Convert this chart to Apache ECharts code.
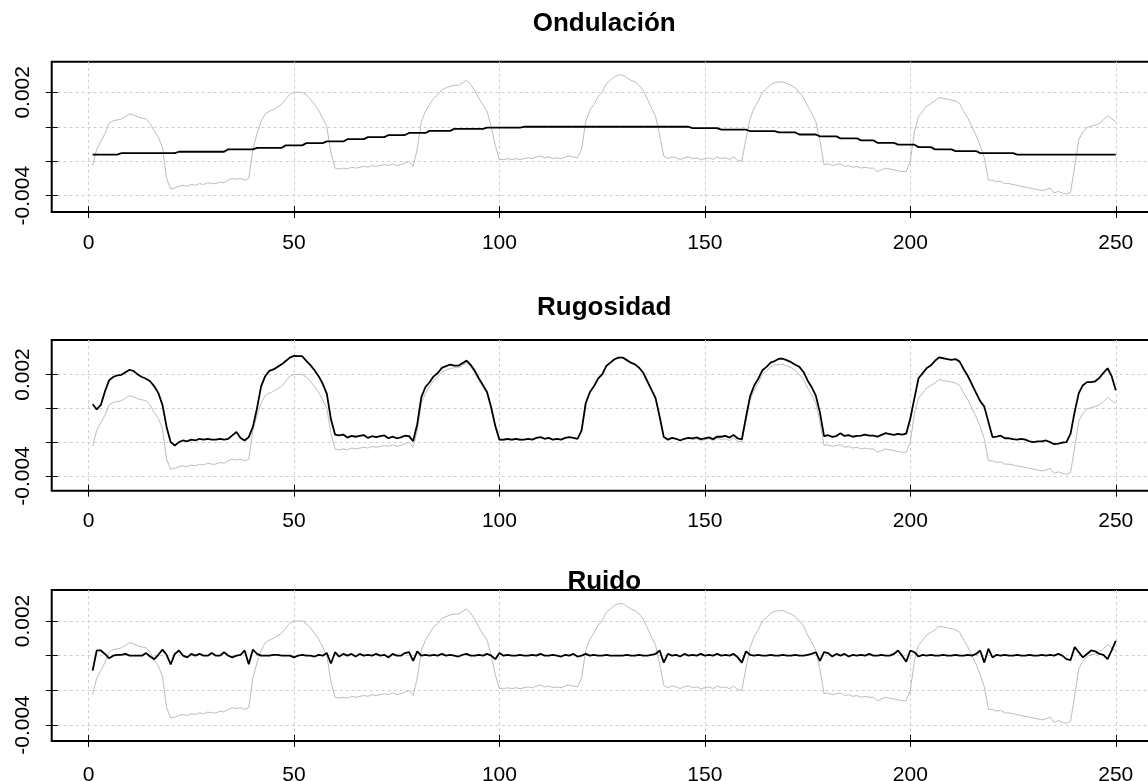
<!DOCTYPE html>
<html><head><meta charset="utf-8">
<script src="https://cdn.jsdelivr.net/npm/echarts@6/dist/echarts.min.js"></script>
<style>html,body{margin:0;padding:0;background:#fff}#c{width:1148px;height:781px}</style>
</head><body><div id="c"></div>
<script>
// ---- data ----
const panelTitles = ['Ondulación', 'Rugosidad', 'Ruido'];
const xTicks = [0, 50, 100, 150, 200, 250];
const yTicks = [-0.004, -0.002, 0, 0.002];
const yLabelTicks = [-0.004, 0.002];

const perfil = [
-0.00224,-0.00130,-0.00085,-0.00040,0.00020,0.00035,0.00040,0.00045,0.00060,0.00075,
0.00068,0.00056,0.00050,0.00046,0.00020,-0.00025,-0.00060,-0.00120,-0.00300,-0.00360,
-0.00355,-0.00345,-0.00340,-0.00345,-0.00335,-0.00340,-0.00330,-0.00335,-0.00325,-0.00330,
-0.00330,-0.00320,-0.00325,-0.00310,-0.00300,-0.00305,-0.00300,-0.00310,-0.00300,-0.00130,
-0.00040,0.00030,0.00075,0.00090,0.00100,0.00115,0.00130,0.00160,0.00190,0.00200,
0.00200,0.00200,0.00185,0.00160,0.00130,0.00095,0.00050,0.00000,-0.00150,-0.00240,
-0.00245,-0.00240,-0.00245,-0.00235,-0.00240,-0.00235,-0.00230,-0.00235,-0.00225,-0.00230,
-0.00225,-0.00220,-0.00225,-0.00215,-0.00225,-0.00220,-0.00210,-0.00200,-0.00230,-0.00130,
0.00030,0.00090,0.00130,0.00165,0.00185,0.00215,0.00225,0.00235,0.00240,0.00240,
0.00255,0.00270,0.00245,0.00210,0.00165,0.00125,0.00090,0.00000,-0.00110,-0.00190,
-0.00190,-0.00185,-0.00190,-0.00185,-0.00190,-0.00185,-0.00180,-0.00185,-0.00175,-0.00170,
-0.00180,-0.00175,-0.00185,-0.00180,-0.00185,-0.00175,-0.00170,-0.00175,-0.00180,-0.00130,
0.00030,0.00095,0.00130,0.00175,0.00200,0.00250,0.00270,0.00290,0.00300,0.00300,
0.00285,0.00270,0.00260,0.00240,0.00210,0.00160,0.00110,0.00060,-0.00050,-0.00170,
-0.00185,-0.00175,-0.00180,-0.00190,-0.00180,-0.00175,-0.00185,-0.00180,-0.00190,-0.00185,
-0.00180,-0.00190,-0.00175,-0.00185,-0.00180,-0.00190,-0.00175,-0.00195,-0.00200,-0.00070,
0.00046,0.00110,0.00150,0.00200,0.00220,0.00245,0.00255,0.00260,0.00260,0.00250,
0.00240,0.00225,0.00200,0.00170,0.00120,0.00080,0.00030,-0.00080,-0.00220,-0.00215,
-0.00225,-0.00220,-0.00215,-0.00230,-0.00225,-0.00235,-0.00230,-0.00240,-0.00235,-0.00240,
-0.00240,-0.00260,-0.00250,-0.00240,-0.00245,-0.00250,-0.00255,-0.00260,-0.00260,-0.00200,
-0.00030,0.00060,0.00090,0.00120,0.00135,0.00150,0.00170,0.00165,0.00160,0.00155,
0.00150,0.00135,0.00090,0.00050,0.00000,-0.00050,-0.00110,-0.00180,-0.00310,-0.00310,
-0.00320,-0.00315,-0.00330,-0.00330,-0.00335,-0.00340,-0.00345,-0.00350,-0.00355,-0.00360,
-0.00365,-0.00370,-0.00365,-0.00355,-0.00385,-0.00375,-0.00385,-0.00390,-0.00380,-0.00230,
-0.00075,-0.00030,-0.00005,0.00005,0.00010,0.00020,0.00040,0.00065,0.00045,0.00030
];

const ondulacion = [
-0.00162,-0.00162,-0.00162,-0.00162,-0.00162,-0.00162,-0.00162,-0.00153,-0.00153,-0.00153,
-0.00153,-0.00153,-0.00153,-0.00153,-0.00153,-0.00153,-0.00153,-0.00153,-0.00153,-0.00153,
-0.00153,-0.00145,-0.00145,-0.00145,-0.00145,-0.00145,-0.00145,-0.00145,-0.00145,-0.00145,
-0.00145,-0.00145,-0.00145,-0.00131,-0.00131,-0.00131,-0.00131,-0.00131,-0.00131,-0.00131,
-0.00122,-0.00122,-0.00122,-0.00122,-0.00122,-0.00122,-0.00122,-0.00108,-0.00108,-0.00108,
-0.00108,-0.00108,-0.00095,-0.00095,-0.00095,-0.00095,-0.00095,-0.00085,-0.00085,-0.00085,
-0.00085,-0.00085,-0.00072,-0.00072,-0.00072,-0.00072,-0.00072,-0.00060,-0.00060,-0.00060,
-0.00060,-0.00060,-0.00048,-0.00048,-0.00048,-0.00048,-0.00048,-0.00036,-0.00036,-0.00036,
-0.00036,-0.00036,-0.00024,-0.00024,-0.00024,-0.00024,-0.00024,-0.00024,-0.00012,-0.00012,
-0.00012,-0.00012,-0.00012,-0.00012,-0.00012,-0.00012,-0.00005,-0.00005,-0.00005,-0.00005,
-0.00005,-0.00005,-0.00005,-0.00005,-0.00005,0,0,0,0,0,
0,0,0,0,0,0,0,0,0,0,
0,0,0,0,0,0,0,0,0,0,
0,0,0,0,0,0,0,0,0,0,
0,0,0,0,0,0,-0.00008,-0.00008,-0.00008,-0.00008,
-0.00008,-0.00008,-0.00008,-0.00017,-0.00017,-0.00017,-0.00017,-0.00017,-0.00017,-0.00017,
-0.00025,-0.00025,-0.00025,-0.00025,-0.00025,-0.00025,-0.00025,-0.00033,-0.00033,-0.00033,
-0.00033,-0.00033,-0.00045,-0.00045,-0.00045,-0.00045,-0.00045,-0.00056,-0.00056,-0.00056,
-0.00056,-0.00056,-0.00067,-0.00067,-0.00067,-0.00067,-0.00067,-0.00079,-0.00079,-0.00079,
-0.00079,-0.00093,-0.00093,-0.00093,-0.00093,-0.00093,-0.00104,-0.00104,-0.00104,-0.00104,
-0.00104,-0.00118,-0.00118,-0.00118,-0.00118,-0.00131,-0.00131,-0.00131,-0.00131,-0.00131,
-0.00141,-0.00141,-0.00141,-0.00141,-0.00141,-0.00141,-0.00153,-0.00153,-0.00153,-0.00153,
-0.00153,-0.00153,-0.00153,-0.00153,-0.00153,-0.00162,-0.00162,-0.00162,-0.00162,-0.00162,
-0.00162,-0.00162,-0.00162,-0.00162,-0.00162,-0.00162,-0.00162,-0.00162,-0.00162,-0.00162,
-0.00162,-0.00162,-0.00162,-0.00162,-0.00162,-0.00162,-0.00162,-0.00162,-0.00162,-0.00162
];

const rugosidad = [
0.00024,-0.00006,0.00020,0.00100,0.00165,0.00185,0.00195,0.00198,0.00213,0.00228,
0.00220,0.00200,0.00185,0.00175,0.00160,0.00130,0.00090,0.00020,-0.00110,-0.00200,
-0.00220,-0.00200,-0.00190,-0.00195,-0.00185,-0.00190,-0.00180,-0.00185,-0.00180,-0.00185,
-0.00185,-0.00180,-0.00185,-0.00180,-0.00160,-0.00140,-0.00175,-0.00190,-0.00170,-0.00110,
0.00000,0.00130,0.00190,0.00222,0.00230,0.00245,0.00260,0.00280,0.00300,0.00310,
0.00308,0.00308,0.00280,0.00255,0.00225,0.00190,0.00145,0.00085,-0.00065,-0.00155,
-0.00160,-0.00155,-0.00173,-0.00163,-0.00168,-0.00163,-0.00158,-0.00175,-0.00165,-0.00170,
-0.00165,-0.00160,-0.00177,-0.00167,-0.00177,-0.00172,-0.00162,-0.00164,-0.00194,-0.00094,
0.00066,0.00126,0.00154,0.00189,0.00209,0.00239,0.00249,0.00259,0.00252,0.00252,
0.00267,0.00282,0.00257,0.00222,0.00177,0.00137,0.00095,0.00005,-0.00105,-0.00185,
-0.00185,-0.00180,-0.00185,-0.00180,-0.00185,-0.00185,-0.00180,-0.00185,-0.00175,-0.00170,
-0.00180,-0.00175,-0.00185,-0.00180,-0.00185,-0.00175,-0.00170,-0.00175,-0.00180,-0.00130,
0.00030,0.00095,0.00130,0.00175,0.00200,0.00250,0.00270,0.00290,0.00300,0.00300,
0.00285,0.00270,0.00260,0.00240,0.00210,0.00160,0.00110,0.00060,-0.00050,-0.00170,
-0.00185,-0.00175,-0.00180,-0.00190,-0.00180,-0.00175,-0.00177,-0.00172,-0.00182,-0.00177,
-0.00172,-0.00182,-0.00167,-0.00168,-0.00163,-0.00173,-0.00158,-0.00178,-0.00183,-0.00053,
0.00071,0.00135,0.00175,0.00225,0.00245,0.00270,0.00280,0.00293,0.00293,0.00283,
0.00273,0.00258,0.00245,0.00215,0.00165,0.00125,0.00075,-0.00024,-0.00164,-0.00159,
-0.00169,-0.00164,-0.00148,-0.00163,-0.00158,-0.00168,-0.00163,-0.00161,-0.00156,-0.00161,
-0.00161,-0.00167,-0.00157,-0.00147,-0.00152,-0.00157,-0.00151,-0.00156,-0.00150,-0.00060,
0.00060,0.00178,0.00208,0.00238,0.00253,0.00281,0.00301,0.00296,0.00291,0.00286,
0.00291,0.00276,0.00231,0.00191,0.00141,0.00091,0.00043,0.00010,-0.00080,-0.00170,
-0.00167,-0.00162,-0.00177,-0.00177,-0.00182,-0.00185,-0.00180,-0.00185,-0.00195,-0.00200,
-0.00195,-0.00195,-0.00190,-0.00200,-0.00212,-0.00208,-0.00202,-0.00200,-0.00150,-0.00020,
0.00090,0.00137,0.00155,0.00155,0.00160,0.00180,0.00210,0.00237,0.00190,0.00107
];

const ruido = [
-0.00086,0.00030,0.00030,0.00010,-0.00015,0.00000,0.00005,0.00005,0.00010,0.00000,
0.00000,0.00000,0.00000,0.00015,-0.00005,-0.00020,0.00005,0.00035,0.00005,-0.00050,
0.00010,0.00030,0.00000,-0.00010,0.00010,0.00000,0.00010,0.00000,0.00000,0.00015,
0.00000,0.00000,0.00020,0.00000,-0.00010,0.00000,0.00005,0.00030,-0.00050,0.00035,
0.00010,0.00000,0.00000,0.00000,0.00005,0.00005,0.00000,0.00000,0.00000,-0.00010,
0.00000,0.00005,0.00000,0.00000,-0.00005,0.00005,0.00000,0.00015,-0.00045,0.00020,
-0.00005,0.00010,0.00000,0.00010,-0.00005,0.00010,0.00000,0.00005,0.00000,0.00010,
0.00000,0.00005,-0.00010,0.00010,0.00000,0.00000,0.00015,0.00020,-0.00030,0.00025,
0.00000,0.00005,0.00000,0.00005,0.00000,0.00010,0.00000,0.00005,0.00000,-0.00005,
0.00005,0.00010,0.00000,0.00000,0.00005,0.00000,0.00010,0.00000,-0.00020,0.00015,
0.00000,0.00005,0.00000,0.00000,0.00005,0.00000,0.00000,0.00005,0.00000,0.00010,
0.00000,0.00000,0.00005,0.00000,-0.00005,0.00005,0.00000,0.00010,-0.00005,0.00000,
0.00010,0.00000,0.00005,0.00000,0.00000,0.00005,0.00000,0.00000,0.00000,0.00000,
0.00005,0.00000,0.00000,0.00005,0.00000,0.00000,0.00005,0.00010,0.00030,-0.00040,
0.00010,0.00000,0.00005,-0.00005,0.00010,0.00000,0.00005,0.00000,0.00010,0.00000,
0.00005,0.00000,0.00010,0.00000,0.00005,0.00000,0.00010,-0.00010,-0.00040,0.00025,
0.00005,0.00000,0.00005,0.00000,0.00000,0.00005,0.00000,0.00000,0.00005,0.00000,
0.00000,0.00005,0.00000,0.00000,0.00005,0.00010,0.00020,-0.00030,0.00020,0.00015,
-0.00005,0.00010,0.00000,0.00010,-0.00005,0.00005,0.00000,0.00005,0.00000,0.00010,
0.00000,0.00000,0.00005,0.00000,0.00000,0.00010,0.00030,0.00000,-0.00035,0.00030,
0.00020,-0.00005,0.00005,0.00000,0.00005,0.00000,0.00000,0.00005,0.00000,0.00000,
0.00005,0.00000,0.00000,0.00005,0.00000,0.00010,0.00030,-0.00040,0.00040,-0.00010,
0.00005,0.00000,0.00005,0.00000,0.00000,0.00005,0.00000,0.00000,0.00005,0.00000,
0.00000,0.00005,0.00000,0.00005,0.00000,0.00010,0.00000,-0.00020,-0.00025,0.00050,
0.00020,-0.00010,0.00010,0.00030,0.00025,0.00010,0.00005,-0.00020,0.00030,0.00086
];

const componentes = [ondulacion, rugosidad, ruido];

// ---- layout / style (not data) ----
const FONT = "'Liberation Sans', Arial, sans-serif";
const BOX_LEFT = 51.7, BOX_WIDTH = 1105;
const X_RANGE = [-8.96, 259.96];
const panels = [
  { boxTop: 61.7, boxHeight: 150.3, yMin: -0.004946, yMax: 0.003776, titleTop: 11, labelMargin: 21 },
  { boxTop: 340,  boxHeight: 150.7, yMin: -0.004869, yMax: 0.004039, titleTop: 295, labelMargin: 20 },
  { boxTop: 590,  boxHeight: 151,   yMin: -0.004923, yMax: 0.003789, titleTop: 569, labelMargin: 24 }
];

const samples = perfil.map((_, i) => i + 1);
const pairs = arr => samples.map((x, i) => [x, arr[i]]);

const grid = [], xAxis = [], yAxis = [], series = [], title = [];
const gridLine = { show: true, lineStyle: { color: '#cfcfcf', type: [3, 3], width: 1 } };
const fmt = v => v.toFixed(3);
const tickStyle = { color: '#000', width: 1 };

panels.forEach((p, i) => {
  grid.push({ left: BOX_LEFT, top: p.boxTop, width: BOX_WIDTH, height: p.boxHeight,
    show: true, borderColor: '#000', borderWidth: 2, backgroundColor: 'transparent',
    containLabel: false, outerBoundsMode: 'none' });
  title.push({ text: panelTitles[i], left: BOX_LEFT + BOX_WIDTH / 2, top: p.titleTop, textAlign: 'center', padding: 0,
    textStyle: { fontFamily: FONT, fontSize: 26, fontWeight: 'bold', color: '#000' } });
  // main x axis (outward ticks, labels, vertical grid lines)
  xAxis.push({ type: 'value', gridIndex: i, min: X_RANGE[0], max: X_RANGE[1], position: 'bottom',
    axisLine: { show: false, onZero: false },
    axisTick: { show: true, inside: false, length: 6, customValues: xTicks, lineStyle: tickStyle },
    axisLabel: { show: true, customValues: xTicks, margin: p.labelMargin, fontFamily: FONT, fontSize: 21, color: '#000' },
    splitLine: gridLine });
  // inner half of the ticks
  xAxis.push({ type: 'value', gridIndex: i, min: X_RANGE[0], max: X_RANGE[1], position: 'bottom',
    axisLine: { show: false, onZero: false },
    axisTick: { show: true, inside: true, length: 6, customValues: xTicks, lineStyle: tickStyle },
    axisLabel: { show: false }, splitLine: { show: false } });
  yAxis.push({ type: 'value', gridIndex: i, min: p.yMin, max: p.yMax, position: 'left',
    axisLine: { show: false, onZero: false },
    axisTick: { show: true, inside: false, length: 6, customValues: yTicks, lineStyle: tickStyle },
    axisLabel: { show: true, customValues: yLabelTicks, rotate: 90, margin: 18, formatter: fmt,
      fontFamily: FONT, fontSize: 21, color: '#000' },
    splitLine: gridLine });
  yAxis.push({ type: 'value', gridIndex: i, min: p.yMin, max: p.yMax, position: 'left',
    axisLine: { show: false, onZero: false },
    axisTick: { show: true, inside: true, length: 6, customValues: yTicks, lineStyle: tickStyle },
    axisLabel: { show: false }, splitLine: { show: false } });
  series.push({ type: 'line', xAxisIndex: 2 * i, yAxisIndex: 2 * i, data: pairs(perfil),
    symbol: 'none', lineStyle: { color: '#bdbdbd', width: 1 }, silent: true, z: 2 });
  series.push({ type: 'line', xAxisIndex: 2 * i, yAxisIndex: 2 * i, data: pairs(componentes[i]),
    symbol: 'none', lineStyle: { color: '#000', width: 1.8 }, silent: true, z: 3 });
});

const chart = echarts.init(document.getElementById('c'), null, { renderer: 'canvas' });
chart.setOption({ animation: false, backgroundColor: '#fff', title, grid, xAxis, yAxis, series });
</script></body></html>
